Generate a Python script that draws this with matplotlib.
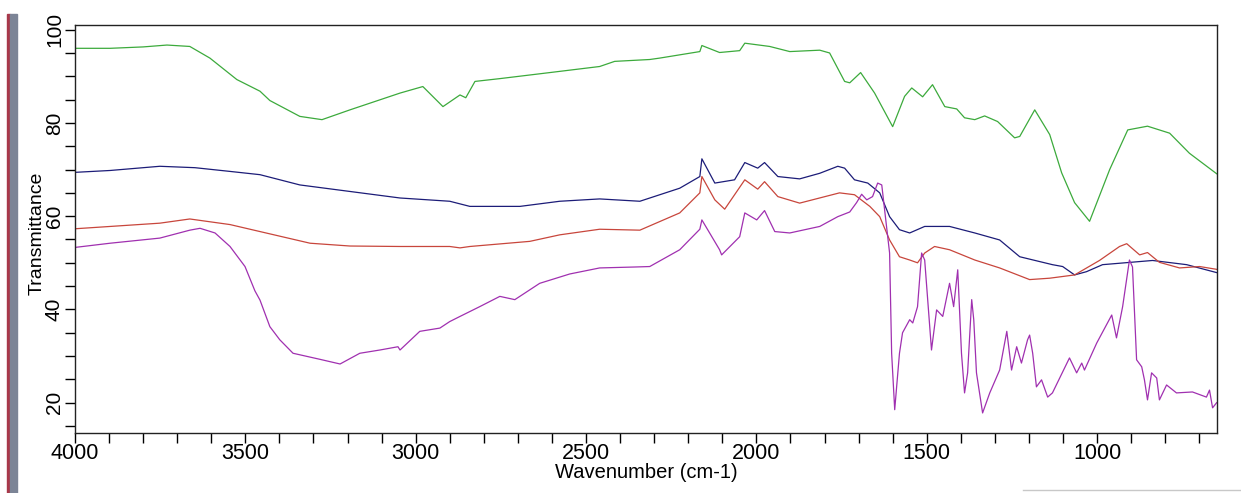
import numpy as np
import matplotlib.pyplot as plt
from matplotlib.ticker import MultipleLocator
from matplotlib.patches import Rectangle
from matplotlib.lines import Line2D

plt.rcParams['font.family'] = ['Liberation Sans', 'DejaVu Sans']

# spectra: wavenumber (cm-1), transmittance
green_wn = [4000, 3897, 3800, 3730, 3663, 3604, 3525, 3457, 3428, 3340, 3275, 3193, 3046, 2979,
            2920, 2870, 2853, 2826, 2753, 2606, 2460, 2416, 2313, 2284, 2166, 2160, 2108, 2049,
            2034, 1961, 1902, 1814, 1785, 1741, 1726, 1694, 1653, 1600, 1565, 1544, 1512, 1483,
            1447, 1412, 1389, 1359, 1330, 1292, 1242, 1227, 1183, 1139, 1104, 1066, 1022, 963,
            910, 852, 787, 729, 649]
green_t = [96.0, 96.0, 96.3, 96.7, 96.4, 93.9, 89.3, 86.8, 84.8, 81.4, 80.7, 82.8, 86.4, 87.8,
           83.5, 86.0, 85.4, 88.9, 89.5, 90.8, 92.1, 93.2, 93.6, 93.9, 95.3, 96.6, 95.1, 95.5,
           97.1, 96.4, 95.3, 95.6, 95.0, 88.9, 88.6, 90.8, 86.4, 79.2, 85.7, 87.5, 85.6, 88.2,
           83.5, 83.0, 81.1, 80.7, 81.5, 80.3, 76.8, 77.1, 82.8, 77.5, 69.3, 62.9, 58.9, 70.0,
           78.5, 79.3, 77.8, 73.5, 69.1]

blue_wn = [4000, 3897, 3751, 3648, 3545, 3457, 3340, 3193, 3046, 2900, 2841, 2694, 2577, 2460,
           2342, 2225, 2166, 2160, 2122, 2064, 2034, 1996, 1976, 1937, 1873, 1814, 1761, 1741,
           1712, 1673, 1638, 1609, 1580, 1550, 1506, 1433, 1359, 1286, 1227, 1131, 1101, 1066,
           1031, 984, 837, 737, 649]
blue_t = [69.4, 69.8, 70.7, 70.4, 69.6, 68.9, 66.7, 65.3, 63.9, 63.2, 62.1, 62.1, 63.2, 63.7,
          63.2, 66.0, 68.5, 72.3, 67.1, 67.8, 71.5, 70.3, 71.5, 68.5, 68.0, 69.2, 70.7, 70.3,
          67.8, 67.1, 65.0, 59.9, 57.1, 56.4, 57.8, 57.8, 56.4, 54.9, 51.3, 49.6, 49.2, 47.4,
          48.1, 49.6, 50.5, 49.6, 47.9]

red_wn = [4000, 3751, 3663, 3545, 3457, 3310, 3193, 3046, 2900, 2870, 2841, 2665, 2577, 2460,
          2342, 2225, 2166, 2160, 2122, 2093, 2034, 1996, 1976, 1937, 1873, 1756, 1712, 1667,
          1638, 1609, 1580, 1550, 1527, 1506, 1477, 1433, 1359, 1286, 1198, 1139, 1066, 993,
          934, 913, 875, 852, 817, 758, 699, 649]
red_t = [57.3, 58.5, 59.4, 58.2, 56.7, 54.2, 53.6, 53.5, 53.5, 53.2, 53.5, 54.6, 56.0, 57.2,
         57.0, 60.7, 65.0, 68.5, 63.5, 61.5, 67.8, 65.8, 67.4, 64.2, 62.8, 65.0, 64.6, 62.1,
         59.9, 54.9, 51.3, 50.6, 50.0, 52.1, 53.5, 52.8, 50.6, 48.9, 46.4, 46.7, 47.4, 50.5,
         53.5, 54.1, 51.7, 52.2, 50.1, 48.9, 49.2, 48.6]

purple_wn = [4000, 3897, 3751, 3663, 3633, 3589, 3545, 3501, 3472, 3457, 3428, 3399, 3360, 3281,
             3222, 3164, 3105, 3052, 3046, 2988, 2929, 2900, 2870, 2812, 2753, 2709, 2636, 2548,
             2460, 2357, 2313, 2225, 2166, 2160, 2108, 2102, 2049, 2034, 1999, 1976, 1946, 1902,
             1814, 1761, 1726, 1706, 1691, 1676, 1659, 1644, 1632, 1618, 1609, 1603, 1594, 1580,
             1571, 1550, 1541, 1527, 1515, 1506, 1486, 1471, 1453, 1433, 1421, 1409, 1398, 1389,
             1380, 1368, 1362, 1354, 1336, 1315, 1286, 1265, 1251, 1236, 1222, 1204, 1198, 1189,
             1178, 1163, 1145, 1131, 1081, 1060, 1045, 1037, 1001, 957, 943, 925, 905, 896,
             884, 869, 861, 852, 840, 825, 817, 796, 767, 720, 679, 670, 661, 649]
purple_t = [53.3, 54.2, 55.3, 57.0, 57.4, 56.4, 53.5, 49.2, 44.0, 42.0, 36.3, 33.5, 30.6, 29.3,
            28.3, 30.6, 31.3, 32.0, 31.3, 35.3, 36.0, 37.4, 38.5, 40.6, 42.8, 42.1, 45.6, 47.6,
            48.9, 49.1, 49.2, 52.8, 57.2, 59.2, 52.8, 51.7, 55.6, 60.7, 59.2, 61.2, 56.7, 56.4,
            57.8, 59.9, 60.9, 62.9, 64.7, 63.5, 64.2, 67.1, 66.7, 57.8, 52.1, 30.6, 18.5, 30.6,
            35.0, 37.8, 37.1, 40.6, 52.1, 50.6, 31.3, 39.9, 38.5, 45.6, 40.6, 48.5, 30.6, 22.1,
            26.4, 42.1, 37.8, 26.4, 17.8, 22.1, 27.0, 35.3, 27.0, 32.0, 28.5, 33.5, 34.5, 30.6,
            23.4, 24.9, 21.2, 22.1, 29.6, 26.4, 28.5, 27.0, 32.8, 38.8, 33.9, 40.6, 50.6, 49.1,
            29.2, 27.7, 24.9, 20.6, 26.4, 25.3, 20.6, 23.8, 22.1, 22.3, 21.2, 22.7, 18.9, 20.0]

fig = plt.figure(figsize=(12.41, 4.93), dpi=100)
ax = fig.add_axes([75 / 1241, 1 - 433 / 493, 1142 / 1241, 408 / 493])

ax.plot(green_wn, green_t, color='#3caa3c', lw=0.9)
ax.plot(blue_wn, blue_t, color='#1c1c78', lw=0.9)
ax.plot(red_wn, red_t, color='#c8463c', lw=0.9)
ax.plot(purple_wn, purple_t, color='#a030b0', lw=0.9)

ax.set_xlim(4000, 648)
ax.set_ylim(13.5, 101)
ax.xaxis.set_major_locator(MultipleLocator(500))
ax.xaxis.set_minor_locator(MultipleLocator(100))
ax.yaxis.set_major_locator(MultipleLocator(20))
ax.yaxis.set_minor_locator(MultipleLocator(5))
ax.tick_params(which='both', direction='out', length=7, width=1, color='black',
               top=False, right=False)
ax.tick_params(axis='x', labelsize=15.5, pad=0)
ax.tick_params(axis='y', labelsize=15, pad=1)
for lab in ax.get_yticklabels():
    lab.set_rotation(90)
    lab.set_va('center')
for s in ax.spines.values():
    s.set_linewidth(1)
    s.set_color('#222222')

ax.set_xlabel('Wavenumber (cm-1)', fontsize=14.5, labelpad=0)
ax.set_ylabel('Transmittance', fontsize=14)
ax.yaxis.set_label_coords(-0.026, 0.49)
ax.xaxis.set_label_coords(0.5, -0.073)

# coloured strip on the left edge and faint line at the bottom right
fig.patches.append(Rectangle((7 / 1241, 0), 3 / 1241, 1 - 14 / 493, transform=fig.transFigure,
                             color='#a8384a', zorder=0))
fig.patches.append(Rectangle((10 / 1241, 0), 7 / 1241, 1 - 14 / 493, transform=fig.transFigure,
                             color='#7c8496', zorder=0))
fig.lines.append(Line2D([1023 / 1241, 1], [3 / 493, 3 / 493], transform=fig.transFigure,
                        color='#c8c8c8', lw=1))

fig.savefig('out.png', dpi=100)
